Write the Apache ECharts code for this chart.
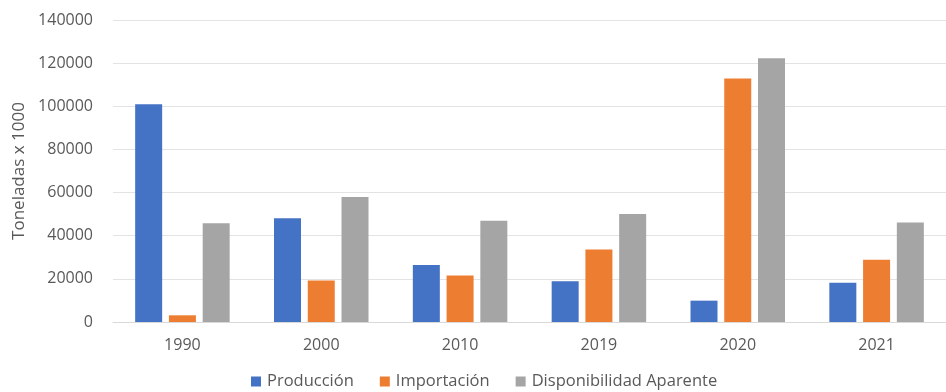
<!DOCTYPE html>
<html>
<head>
<meta charset="utf-8">
<script src="https://cdn.jsdelivr.net/npm/echarts@6/dist/echarts.min.js"></script>
<style>
  html, body { margin: 0; padding: 0; background: #ffffff; }
  #chart { width: 946px; height: 392px; }
</style>
</head>
<body>
<div id="chart"></div>
<script>
// Years on the category axis
const years = ['1990', '2000', '2010', '2019', '2020', '2021'];

// Series values, in tonnes x 1000
const produccion = [101000, 48100, 26400, 18900, 9900, 18200];
const importacion = [3100, 19200, 21500, 33600, 112900, 28800];
const disponibilidad = [45800, 57900, 46900, 50100, 122300, 46100];

const seriesNames = ['Producción', 'Importación', 'Disponibilidad Aparente'];
const seriesColors = ['#4472C4', '#ED7D31', '#A5A5A5'];

const textColor = '#595959';
const fontFamily = '"Open Sans", "Noto Sans", sans-serif';

const chart = echarts.init(document.getElementById('chart'), null, { renderer: 'canvas' });

const seriesData = [produccion, importacion, disponibilidad];

chart.setOption({
  animation: false,
  backgroundColor: '#ffffff',
  textStyle: { fontFamily: fontFamily, color: textColor },
  grid: { left: 113, right: -5, top: 20, bottom: 70, containLabel: false },
  legend: {
    data: seriesNames,
    bottom: -3,
    left: 246,
    itemWidth: 10,
    itemHeight: 10,
    itemGap: 26,
    icon: 'rect',
    textStyle: { fontSize: 16.5, color: textColor, fontFamily: fontFamily, padding: [0, 0, 0, 1] }
  },
  xAxis: {
    type: 'category',
    data: years,
    axisLine: { show: true, lineStyle: { color: '#d9d9d9', width: 1 } },
    axisTick: { show: false },
    axisLabel: { fontSize: 16, color: textColor, margin: 15 }
  },
  yAxis: {
    type: 'value',
    min: 0,
    max: 140000,
    interval: 20000,
    name: 'Toneladas x 1000',
    nameLocation: 'middle',
    nameGap: 83,
    nameTextStyle: { fontSize: 17, color: textColor },
    axisLine: { show: false },
    axisTick: { show: false },
    axisLabel: { fontSize: 16, color: textColor, margin: 20, formatter: (v) => String(v) },
    splitLine: { lineStyle: { color: '#e3e3e3', width: 1 } }
  },
  series: seriesNames.map((name, i) => ({
    name: name,
    type: 'bar',
    data: seriesData[i],
    barWidth: 27,
    barGap: '25%',
    itemStyle: { color: seriesColors[i] }
  }))
});
</script>
</body>
</html>
